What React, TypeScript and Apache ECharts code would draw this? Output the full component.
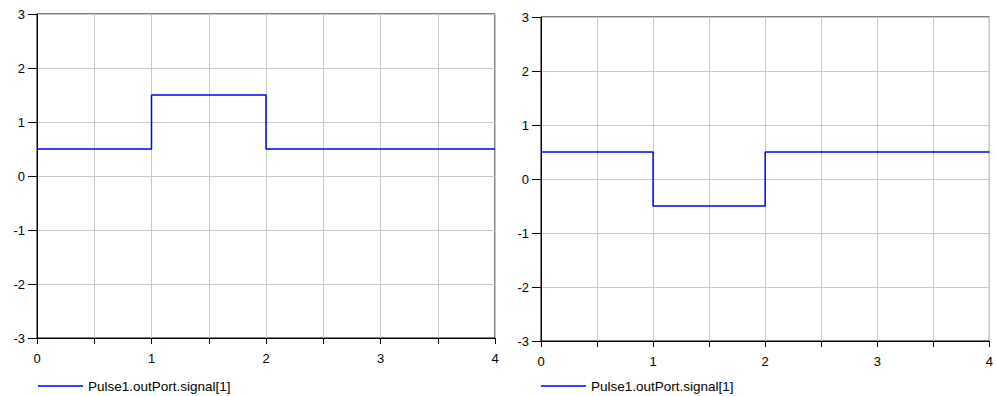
import React, { useEffect, useRef } from "react";
import * as echarts from "echarts";

const seriesName = "Pulse1.outPort.signal[1]";
const stepTimes = [0, 1, 2, 4];
const leftValues = [0.5, 1.5, 0.5, 0.5];
const rightValues = [0.5, -0.5, 0.5, 0.5];
const xMin = 0;
const xMax = 4;
const yMin = -3;
const yMax = 3;

const FONT = "Liberation Sans";

function makeX(gridIndex: number) {
  return {
    type: "value" as const,
    gridIndex,
    min: xMin,
    max: xMax,
    interval: 0.5,
    axisLine: { show: true, onZero: false, lineStyle: { color: "#000", width: 1 } },
    axisTick: { show: true, inside: false, length: 6, lineStyle: { color: "#000" } },
    axisLabel: {
      color: "#000",
      fontFamily: FONT,
      fontSize: 13,
      margin: 14,
      formatter: (v: number) => (Number.isInteger(v) ? String(v) : ""),
    },
    splitLine: { show: true, lineStyle: { color: "#c8c8c8", width: 1 } },
  };
}

function makeY(gridIndex: number) {
  return {
    type: "value" as const,
    gridIndex,
    min: yMin,
    max: yMax,
    interval: 1,
    axisLine: { show: true, onZero: false, lineStyle: { color: "#000", width: 1 } },
    axisTick: { show: true, inside: false, length: 9, lineStyle: { color: "#000" } },
    axisLabel: { color: "#000", fontFamily: FONT, fontSize: 13, margin: 12 },
    splitLine: { show: true, lineStyle: { color: "#c8c8c8", width: 1 } },
  };
}

function makeLegend(left: number) {
  return {
    left,
    top: 374,
    data: [seriesName],
    icon: "rect",
    itemWidth: 45,
    itemHeight: 1.5,
    itemGap: 5,
    textStyle: { fontFamily: FONT, fontSize: 13.5, color: "#000" },
    selectedMode: false,
  };
}

export default function App() {
  const ref = useRef<HTMLDivElement>(null);
  useEffect(() => {
    if (!ref.current) return;
    const chart = echarts.init(ref.current, null, { renderer: "svg" });
    const toData = (vals: number[]) => stepTimes.map((t, i) => [t, vals[i]]);
    const lineSeries = (idx: number, vals: number[]) => ({
      name: seriesName,
      type: "line",
      xAxisIndex: idx,
      yAxisIndex: idx,
      step: "end",
      showSymbol: false,
      symbol: "none",
      color: "#0000ff",
      lineStyle: { color: "#0000ff", width: 1.5 },
      data: toData(vals),
    });
    chart.setOption({
      animation: false,
      backgroundColor: "#fff",
      grid: [
        { left: 37, top: 14, width: 458, height: 324, show: true, borderColor: "#000", borderWidth: 1, backgroundColor: "transparent" },
        { left: 541, top: 17, width: 458, height: 324, show: true, borderColor: "#000", borderWidth: 1, backgroundColor: "transparent" },
      ],
      xAxis: [makeX(0), makeX(1)],
      yAxis: [makeY(0), makeY(1)],
      legend: [makeLegend(33), makeLegend(536)],
      series: [lineSeries(0, leftValues), lineSeries(1, rightValues)],
    });
    return () => chart.dispose();
  }, []);
  return (
    <div
      ref={ref}
      style={{ position: "absolute", left: 0, top: 0, width: 996, height: 396 }}
    />
  );
}
